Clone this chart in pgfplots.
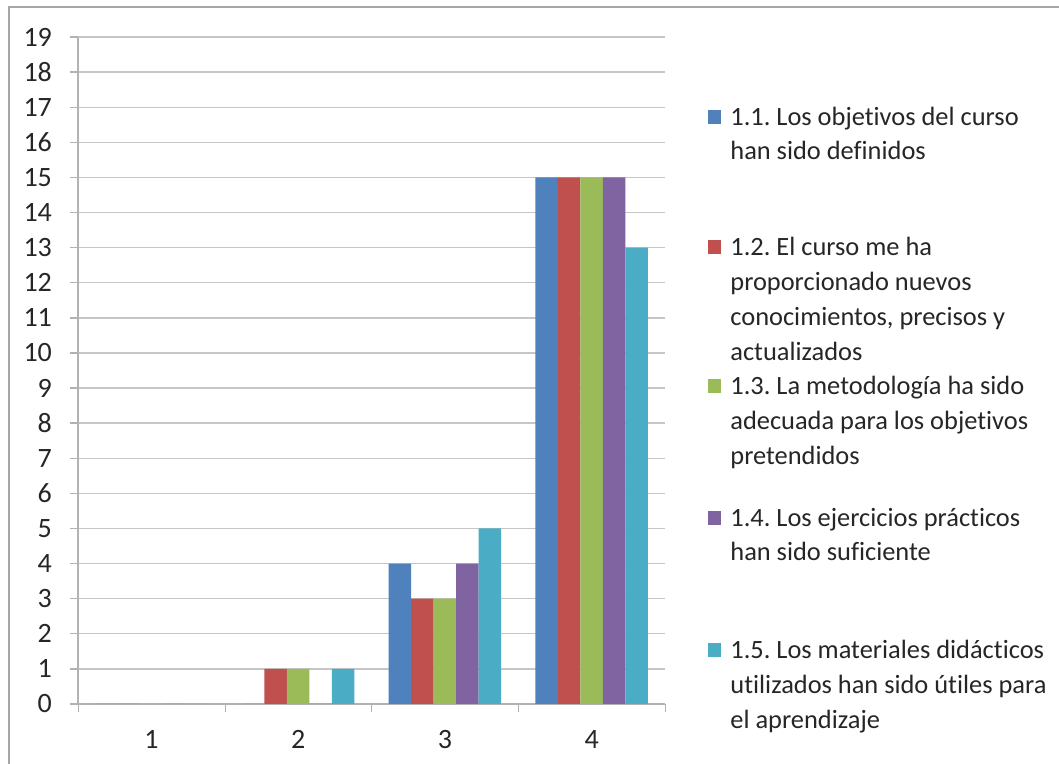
\documentclass[border=0pt]{standalone}
\usepackage{fontspec}
\setmainfont{Carlito}[Ligatures=NoCommon]
\usepackage{pgfplots}
\pgfplotsset{compat=1.18}
\definecolor{s1}{HTML}{4F81BD}
\definecolor{s2}{HTML}{C0504D}
\definecolor{s3}{HTML}{9BBB59}
\definecolor{s4}{HTML}{8064A2}
\definecolor{s5}{HTML}{4BACC6}
\definecolor{txt}{HTML}{262626}
\frenchspacing
\begin{document}
\begin{tikzpicture}[x=0.5pt,y=0.5pt]
\useasboundingbox (0,0) rectangle (1059,764);
\fill[white] (0,0) rectangle (1059,764);
\draw[gray!70, line width=1pt] (9,0) -- (9,757) -- (1059,757);
\begin{axis}[
  at={(39pt,30pt)}, anchor=south west,
  scale only axis, width=293.5pt, height=333.5pt,
  xmin=0.5, xmax=4.5, ymin=0, ymax=19,
  ytick={0,...,19},
  xtick={1,2,3,4},
  xtick style={draw=none},
  extra x ticks={0.5,1.5,2.5,3.5,4.5},
  extra x tick labels={},
  extra x tick style={xtick style={draw=gray!60}},
  tick align=outside, major tick length=4pt,
  ymajorgrids, grid style={gray!45, line width=0.7pt},
  axis x line*=bottom, axis y line*=left,
  axis line style={gray!60, line width=0.7pt},
  ytick style={gray!60, line width=0.7pt},
  tick label style={font=\fontsize{14}{16}\selectfont, text=txt},
  /pgf/number format/assume math mode=true,
  yticklabel style={xshift=-5.5pt},
  xticklabel style={yshift=-5.5pt},
  ybar=0pt, bar width=11.25pt,
  every axis plot/.append style={draw=none},
]
\addplot[fill=s1] coordinates {(1,0) (2,0) (3,4) (4,15)};
\addplot[fill=s2] coordinates {(1,0) (2,1) (3,3) (4,15)};
\addplot[fill=s3] coordinates {(1,0) (2,1) (3,3) (4,15)};
\addplot[fill=s4] coordinates {(1,0) (2,0) (3,4) (4,15)};
\addplot[fill=s5] coordinates {(1,0) (2,1) (3,5) (4,13)};
\end{axis}
\begin{scope}[every node/.style={anchor=base west, inner sep=0pt, text=txt, font=\fontsize{13.2}{17}\selectfont}]
\fill[s1] (708,640) rectangle (721,654);
\node at (730,638) {1.1. Los objetivos del curso};
\node at (730,604) {han sido definidos};
\fill[s2] (708,510) rectangle (721,524);
\node at (730,508) {1.2. El curso me ha};
\node at (730,473) {proporcionado nuevos};
\node at (730,438) {conocimientos, precisos y};
\node at (730,403) {actualizados};
\fill[s3] (708,371) rectangle (721,385);
\node at (730,369) {1.3. La metodología ha sido};
\node at (730,334) {adecuada para los objetivos};
\node at (730,299) {pretendidos};
\fill[s4] (708,239) rectangle (721,253);
\node at (730,237) {1.4. Los ejercicios prácticos};
\node at (730,203) {han sido suficiente};
\fill[s5] (708,107) rectangle (721,121);
\node at (730,105) {1.5. Los materiales didácticos};
\node at (730,70) {utilizados han sido útiles para};
\node at (730,35) {el aprendizaje};
\end{scope}
\end{tikzpicture}
\end{document}
